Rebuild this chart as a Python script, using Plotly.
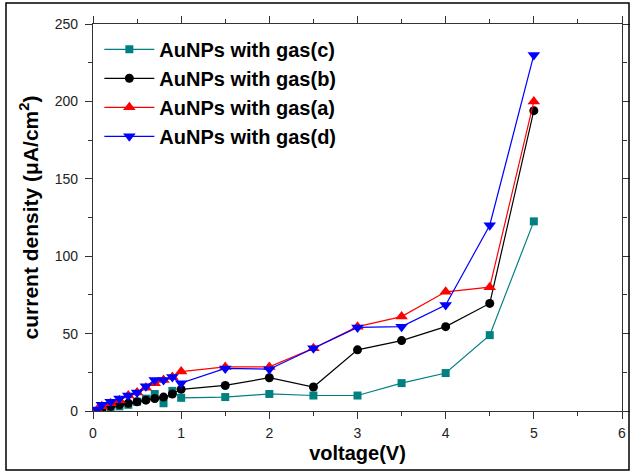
import plotly.graph_objects as go

# ---- data ----
v_c = [0.1, 0.2, 0.3, 0.4, 0.5, 0.6, 0.7, 0.8, 0.9, 1.0, 1.5, 2.0, 2.5, 3.0, 3.5, 4.0, 4.5, 5.0]
j_c = [1, 2, 3, 4, 6, 8, 11, 5, 13, 8.5, 9, 11, 10, 10, 18, 24.5, 49, 122.5]

v_b = [0.1, 0.2, 0.3, 0.4, 0.5, 0.6, 0.7, 0.8, 0.9, 1.0, 1.5, 2.0, 2.5, 3.0, 3.5, 4.0, 4.5, 5.0]
j_b = [1, 3, 4, 5, 6, 7, 8, 9, 11, 14, 16.5, 21.5, 15.5, 39.5, 45.5, 54.5, 69.5, 194]

v_a = [0.05, 0.1, 0.2, 0.3, 0.4, 0.5, 0.6, 0.7, 0.8, 0.9, 1.0, 1.5, 2.0, 2.5, 3.0, 3.5, 4.0, 4.5, 5.0]
j_a = [1, 3, 5, 7, 10, 12, 15, 18, 20, 22, 25.5, 28.5, 28.5, 40.5, 54.5, 61, 77, 80, 200]

v_d = [0.05, 0.1, 0.2, 0.3, 0.4, 0.5, 0.6, 0.7, 0.8, 0.9, 1.0, 1.5, 2.0, 2.5, 3.0, 3.5, 4.0, 4.5, 5.0]
j_d = [1, 4, 6, 8, 10, 12, 16, 20, 20, 22, 18, 27.5, 27, 40.5, 54, 54.5, 68.5, 120, 230]

names = ["AuNPs with gas(c)", "AuNPs with gas(b)", "AuNPs with gas(a)", "AuNPs with gas(d)"]
colors = ["#008080", "#000000", "#ff0000", "#0000ff"]
symbols = ["square", "circle", "triangle-up", "triangle-down"]
sizes = [8, 9, 11, 11]

fig = go.Figure()
for xs, ys, nm, col, sym, sz in zip([v_c, v_b, v_a, v_d], [j_c, j_b, j_a, j_d],
                                     names, colors, symbols, sizes):
    fig.add_trace(go.Scatter(
        x=xs, y=ys, name="<b>" + nm + "</b>", mode="lines+markers",
        line=dict(color=col, width=1.2),
        marker=dict(symbol=sym, size=sz, color=col),
    ))

font_family = "Liberation Sans, Arial, sans-serif"
axis_common = dict(
    showline=True, linecolor="#333333", linewidth=1.3, mirror="allticks",
    ticks="outside", ticklen=7, tickwidth=1.2, tickcolor="#333333",
    showgrid=False, zeroline=False, automargin=False,
    tickfont=dict(family=font_family, size=14, color="#222222"),
)

fig.update_layout(
    width=632, height=473,
    margin=dict(l=93, r=10, t=24, b=62),
    paper_bgcolor="white", plot_bgcolor="white",
    font=dict(family=font_family, color="black"),
    xaxis=dict(range=[0, 6], dtick=1,
               minor=dict(dtick=0.5, ticks="outside", ticklen=4, tickcolor="#333333"),
               title=dict(text="<b>voltage(V)</b>", font=dict(size=20), standoff=6),
               ticklabelstandoff=2,
               **axis_common),
    yaxis=dict(range=[0, 250], dtick=50,
               minor=dict(dtick=25, ticks="outside", ticklen=4, tickcolor="#333333"),
               title=dict(text="<b>current density (μA/cm<sup>2</sup>)</b>", font=dict(size=21), standoff=10),
               ticklabelstandoff=4,
               **axis_common),
    legend=dict(x=0.012, y=0.985, xanchor="left", yanchor="top",
                bgcolor="rgba(0,0,0,0)", borderwidth=0,
                font=dict(size=20, family=font_family, color="black"),
                tracegroupgap=0, itemwidth=50),
    showlegend=True,
)

# outer frame around whole picture
fig.add_shape(type="rect", xref="paper", yref="paper",
              x0=(6 - 93) / 529, x1=(629 - 93) / 529,
              y0=(411 - 470) / 387, y1=(411 - 3) / 387,
              line=dict(color="black", width=1.5), layer="above")

fig.write_html("out.html")
